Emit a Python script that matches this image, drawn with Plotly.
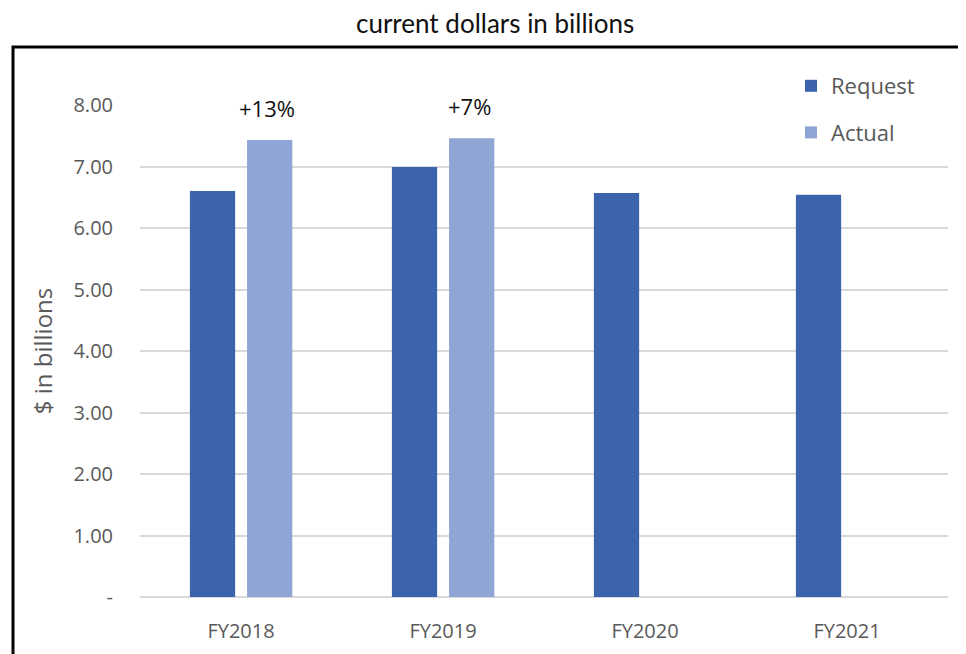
import plotly.graph_objects as go

categories = ["FY2018", "FY2019", "FY2020", "FY2021"]
request_vals = [6.60, 6.99, 6.57, 6.54]
actual_vals = [7.43, 7.46, None, None]
growth_labels = ["+13%", "+7%", None, None]
tick_vals = [0, 1, 2, 3, 4, 5, 6, 7, 8]
tick_text = ["-", "1.00", "2.00", "3.00", "4.00", "5.00", "6.00", "7.00", "8.00"]

# page has an 8px body margin: figure pixel = screen pixel - 8
OFF = 8
W, H = 966, 654
L, R, T, B = 140 - OFF, 966 - 948 + OFF, 105 - OFF, H - (597 - OFF)
pw, ph = W - L - R, H - T - B

def px_x(p):
    return (p - OFF - L) / pw

def px_y(p):
    return (H - B - (p - OFF)) / ph

FONT = "Open Sans, Liberation Sans, sans-serif"
GREY = "#595959"

fig = go.Figure()
fig.add_trace(go.Bar(
    x=categories, y=request_vals, name="Request",
    marker=dict(color="#3C64AD", line=dict(width=0)),
    width=0.224, offset=-0.253, legendgroup="a",
))
fig.add_trace(go.Bar(
    x=categories, y=actual_vals, name="Actual",
    marker=dict(color="#8FA5D5", line=dict(width=0)),
    width=0.224, offset=0.03, legendgroup="b",
))

for c, v, t in zip(categories, actual_vals, growth_labels):
    if t:
        fig.add_annotation(x=c, y=v, text=t, showarrow=False, xref="x", yref="y",
                           xshift=26, yshift=15, yanchor="bottom",
                           font=dict(family=FONT, size=22, color="#111111"))

fig.add_annotation(text="current dollars in billions", xref="paper", yref="paper",
                   x=px_x(495), y=px_y(23), showarrow=False, xanchor="center", yanchor="middle",
                   font=dict(family="Lato, sans-serif", size=26, color="#111111"))

fig.add_shape(type="rect", xref="paper", yref="paper",
              x0=px_x(13), x1=px_x(1000), y0=px_y(47), y1=px_y(720),
              line=dict(color="#000000", width=3), fillcolor="rgba(0,0,0,0)", layer="above")

fig.update_layout(
    width=W, height=H,
    margin=dict(l=L, r=R, t=T, b=B),
    paper_bgcolor="white", plot_bgcolor="white",
    barmode="group",
    showlegend=True,
    legend=dict(x=px_x(791), y=px_y(65), xanchor="left", yanchor="top",
                font=dict(family=FONT, size=22, color=GREY),
                traceorder="grouped", tracegroupgap=15, itemwidth=30, bgcolor="rgba(0,0,0,0)"),
    xaxis=dict(showgrid=False, showline=False, ticks="", zeroline=False, ticklabelstandoff=20,
               tickfont=dict(family=FONT, size=20, color=GREY)),
    yaxis=dict(range=[0, 8], tickvals=tick_vals, ticktext=tick_text,
               showgrid=True, gridcolor="#D9D9D9", gridwidth=2, zeroline=True, zerolinecolor="#D9D9D9", zerolinewidth=2,
               showline=False, ticks="", ticklabelstandoff=26,
               tickfont=dict(family=FONT, size=20, color=GREY),
               title=dict(text="$ in billions", standoff=14,
                          font=dict(family=FONT, size=24, color=GREY))),
)

fig.write_html("out.html")
